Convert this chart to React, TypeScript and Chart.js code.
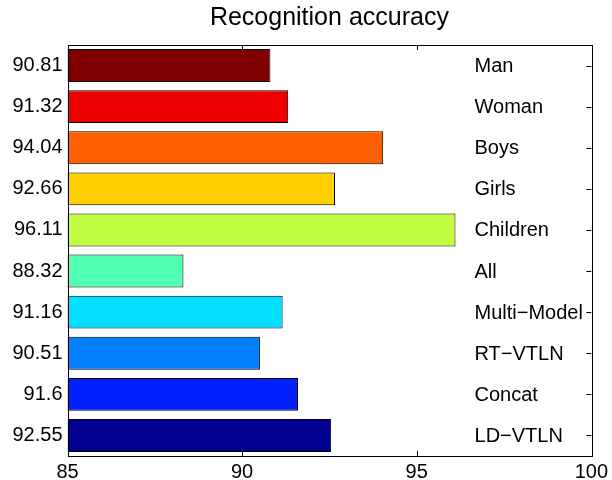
import React, { useEffect, useRef } from "react";
import { Chart, registerables } from "chart.js";

Chart.register(...registerables);

const title = "Recognition accuracy";
const names = ["Man", "Woman", "Boys", "Girls", "Children", "All", "Multi\u2212Model", "RT\u2212VTLN", "Concat", "LD\u2212VTLN"];
const values = [90.81, 91.32, 94.04, 92.66, 96.11, 88.32, 91.16, 90.51, 91.6, 92.55];
const colors = ["#800000", "#ee0000", "#ff6000", "#ffcf00", "#bfff40", "#50ffb0", "#00dfff", "#0080ff", "#0020ff", "#000090"];
const xMin = 85;
const xMax = 100;
const xStep = 5;
const valueLabels = values.map((v) => String(v));

const FONT = "'Liberation Sans', Arial, Helvetica, sans-serif";

const framePlugin = {
  id: "frame",
  afterDatasetsDraw(chart: any) {
    const { ctx, chartArea } = chart;
    const { left, right, top, bottom } = chartArea;
    const xs = chart.scales.x;
    const ys = chart.scales.y;
    ctx.save();
    // title
    ctx.fillStyle = "#000";
    ctx.font = `25px ${FONT}`;
    ctx.textAlign = "center";
    ctx.textBaseline = "middle";
    ctx.fillText(title, (left + right) / 2, 18.5);
    // name labels
    ctx.font = `20px ${FONT}`;
    ctx.textAlign = "left";
    ctx.textBaseline = "middle";
    const lx = left + (right - left) * 0.777;
    names.forEach((n, i) => {
      ctx.fillText(n, lx, ys.getPixelForValue(i) + 1);
    });
    // box
    ctx.strokeStyle = "#000";
    ctx.lineWidth = 1;
    ctx.strokeRect(Math.round(left) + 0.5, Math.round(top) + 0.5, Math.round(right - left), Math.round(bottom - top));
    // inward ticks
    ctx.beginPath();
    for (let v = xMin + xStep; v < xMax; v += xStep) {
      const px = Math.round(xs.getPixelForValue(v)) + 0.5;
      ctx.moveTo(px, top);
      ctx.lineTo(px, top + 5);
      ctx.moveTo(px, bottom);
      ctx.lineTo(px, bottom - 5);
    }
    names.forEach((_, i) => {
      const py = Math.round(ys.getPixelForValue(i)) + 0.5;
      ctx.moveTo(right, py);
      ctx.lineTo(right - 5, py);
    });
    ctx.stroke();
    ctx.restore();
  },
};

export default function App() {
  const ref = useRef<HTMLCanvasElement | null>(null);
  useEffect(() => {
    if (!ref.current) return;
    Chart.defaults.font.family = FONT;
    Chart.defaults.color = "#000";
    const chart = new Chart(ref.current, {
      type: "bar",
      data: {
        labels: valueLabels,
        datasets: [
          {
            data: values,
            base: xMin,
            backgroundColor: colors,
            borderColor: "#000",
            borderWidth: 1,
            borderSkipped: false,
            barPercentage: 0.8,
            categoryPercentage: 1,
          } as any,
        ],
      },
      options: {
        indexAxis: "y",
        responsive: false,
        animation: false,
        layout: { padding: { left: 0, right: 19, top: 45, bottom: 0 } },
        plugins: {
          legend: { display: false },
          tooltip: { enabled: false },
          title: { display: false },
        },
        scales: {
          x: {
            type: "linear",
            min: xMin,
            max: xMax,
            grid: { display: false, drawTicks: false },
            border: { display: false },
            ticks: { stepSize: xStep, color: "#000", font: { size: 20, family: FONT }, padding: 4, maxRotation: 0 },
            afterFit(scale: any) {
              scale.height = 24;
            },
          },
          y: {
            type: "category",
            grid: { display: false, drawTicks: false },
            border: { display: false },
            ticks: { color: "#000", font: { size: 20, family: FONT }, padding: 5 },
            afterFit(scale: any) {
              scale.width = 67.5;
            },
          },
        },
      },
      plugins: [framePlugin],
    });
    return () => chart.destroy();
  }, []);
  return (
    <div style={{ position: "absolute", left: 0, top: 0, width: 612, height: 480, background: "#fff" }}>
      <canvas ref={ref} width={612} height={480} style={{ display: "block" }} />
    </div>
  );
}
